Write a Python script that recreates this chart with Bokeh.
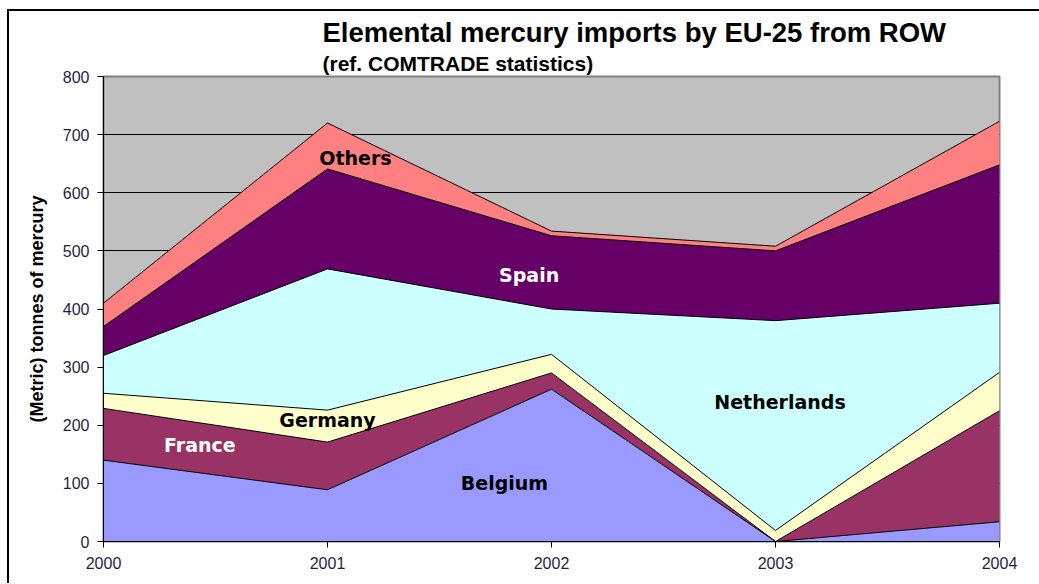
from bokeh.plotting import figure
from bokeh.models import ColumnDataSource, FixedTicker, Label, Title, Range1d
from bokeh.embed import file_html
from bokeh.resources import INLINE

years = [2000, 2001, 2002, 2003, 2004]
belgium = [140, 89, 262, 0, 34]
france = [89, 82, 28, 0, 191]
germany = [26, 55, 32, 19, 66]
netherlands = [65, 243, 78, 361, 119]
spain = [50, 172, 126, 120, 238]
others = [40, 79, 8, 8, 75]

series = ["Belgium", "France", "Germany", "Netherlands", "Spain", "Others"]
colors = ["#9999FF", "#993366", "#FFFFCC", "#CCFFFF", "#660066", "#FF8080"]

source = ColumnDataSource(dict(year=years, Belgium=belgium, France=france, Germany=germany,
                               Netherlands=netherlands, Spain=spain, Others=others))

p = figure(frame_width=896, frame_height=465, output_backend="svg", toolbar_location=None,
           x_range=Range1d(2000, 2004), y_range=Range1d(0, 800),
           min_border_left=94, min_border_right=40, min_border_top=65, min_border_bottom=42)
p.background_fill_color = "#C0C0C0"
p.border_fill_color = "white"
p.outline_line_color = "#808080"
p.outline_line_width = 2

p.varea_stack(stackers=series, x="year", color=colors, source=source)
p.vline_stack(stackers=series, x="year", color="black", line_width=1, source=source)

# grid
p.xgrid.visible = False
p.ygrid.ticker = FixedTicker(ticks=[0, 100, 200, 300, 400, 500, 600, 700, 800])
p.ygrid.grid_line_color = "black"
p.ygrid.grid_line_width = 1

# axes
p.xaxis.ticker = FixedTicker(ticks=years)
p.yaxis.ticker = FixedTicker(ticks=[0, 100, 200, 300, 400, 500, 600, 700, 800])
for ax in (p.xaxis[0], p.yaxis[0]):
    ax.major_tick_out = 6
    ax.major_tick_in = 0
    ax.minor_tick_out = 0
    ax.minor_tick_in = 0
    ax.major_label_text_font = "Liberation Sans"
    ax.major_label_text_font_size = "16px"
    ax.major_label_text_color = "#1f1f3f"
    ax.axis_line_color = "black"
    ax.major_tick_line_color = "black"
p.yaxis.major_label_standoff = 8
p.xaxis.major_label_standoff = 9
p.yaxis.axis_label = "(Metric) tonnes of mercury"
p.yaxis.axis_label_text_font = "Liberation Sans"
p.yaxis.axis_label_text_font_size = "18px"
p.yaxis.axis_label_text_font_style = "bold"
p.yaxis.axis_label_text_color = "black"
p.yaxis.axis_label_standoff = 13

# titles
p.add_layout(Title(text="(ref. COMTRADE statistics)", text_font="Liberation Sans",
                   text_font_size="21px", text_font_style="bold", align="left",
                   offset=219, text_color="black", standoff=4), "above")
p.add_layout(Title(text="Elemental mercury imports by EU-25 from ROW", text_font="Liberation Sans",
                   text_font_size="27.5px", text_font_style="bold", align="left",
                   offset=219, text_color="black", standoff=0), "above")

# area labels
labels = [("Others", 2001.125, 660, "black"), ("Spain", 2001.90, 459, "white"),
          ("Netherlands", 2003.02, 240, "black"), ("Germany", 2001.0, 209, "black"),
          ("France", 2000.43, 166, "white"), ("Belgium", 2001.79, 100, "black")]
for txt, lx, ly, col in labels:
    p.add_layout(Label(x=lx, y=ly, text=txt, text_align="center", text_baseline="middle",
                       text_font="DejaVu Sans", text_font_size="19px", text_font_style="bold",
                       text_color=col))

p.styles = {"border-top": "2px solid black", "border-left": "2px solid black",
            "margin-left": "7px", "margin-top": "9px"}

open("out.html", "w").write(file_html(p, INLINE))
